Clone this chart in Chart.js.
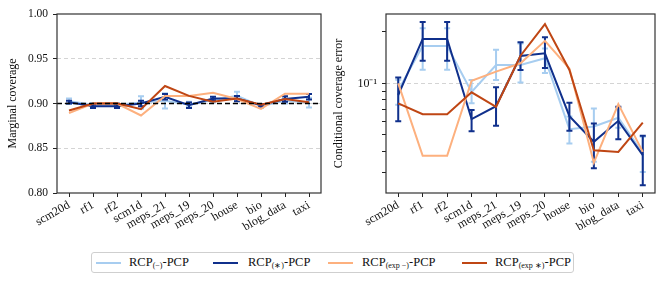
<!DOCTYPE html>
<html>
<head>
<meta charset="utf-8">
<script src="https://cdn.jsdelivr.net/npm/chart.js@4/dist/chart.umd.min.js"></script>
<style>
  html, body { margin:0; padding:0; background:#fff; }
  body { width:665px; height:283px; position:relative; overflow:hidden; font-family:"Liberation Serif", serif; }
  #wrapL { position:absolute; left:0; top:0; width:330px; height:240px; }
  #wrapR { position:absolute; left:330px; top:0; width:335px; height:240px; }
  #legend { position:absolute; left:91px; top:252px; width:481px; height:19px; border:1px solid #cfcfcf; border-radius:3px; box-sizing:content-box; }
  .item { position:absolute; top:0; height:19px; line-height:19px; font-size:12.5px; color:#111; white-space:nowrap; }
  .swatch { position:absolute; top:9px; width:25px; height:2px; }
  sub { font-size:8px; vertical-align:-2px; line-height:0; }
</style>
</head>
<body>
<div id="wrapL"><canvas id="left" width="330" height="240"></canvas></div>
<div id="wrapR"><canvas id="right" width="335" height="240"></canvas></div>
<div id="legend"></div>
<script>
// ---------- data ----------
const categories = ['scm20d','rf1','rf2','scm1d','meps_21','meps_19','meps_20','house','bio','blog_data','taxi'];
const seriesNames = ['RCP(−)-PCP','RCP(∗)-PCP','RCP(exp −)-PCP','RCP(exp ∗)-PCP'];
const seriesColors = ['#a7cdf0','#10308c','#fdb07e','#bf4614'];
const targetCoverage = 0.9;

// marginal coverage (left panel)
const covMinus    = [0.9025,0.8985,0.8985,0.9010,0.9030,0.8990,0.9040,0.9085,0.8970,0.9030,0.9010];
const covMinusErr = [0.0030,0.0020,0.0020,0.0070,0.0085,0.0030,0.0030,0.0045,0.0020,0.0030,0.0055];
const covStar     = [0.9015,0.8970,0.8970,0.9000,0.9075,0.8980,0.9055,0.9055,0.8980,0.9050,0.9075];
const covStarErr  = [0.0015,0.0020,0.0020,0.0030,0.0030,0.0030,0.0020,0.0030,0.0015,0.0030,0.0030];
const covExpMinus = [0.8893,0.9000,0.9000,0.8866,0.9085,0.9085,0.9120,0.9050,0.8940,0.9110,0.9110];
const covExpStar  = [0.8922,0.9000,0.9003,0.8937,0.9195,0.9085,0.9020,0.9055,0.8985,0.9050,0.9015];

// conditional coverage error (right panel)
const errMinus     = [0.0910,0.1650,0.1650,0.0890,0.1280,0.1280,0.1400,0.0540,0.0560,0.0630,0.0390];
const errMinusLow  = [0.0750,0.1200,0.1200,0.0764,0.1045,0.1010,0.1150,0.0446,0.0348,0.0550,0.0304];
const errMinusHigh = [0.1050,0.2100,0.2100,0.1045,0.1570,0.1710,0.1600,0.0640,0.0714,0.0720,0.0487];
const errStar      = [0.0855,0.1816,0.1816,0.0618,0.0736,0.1444,0.1496,0.0644,0.0456,0.0604,0.0381];
const errStarLow   = [0.0600,0.1355,0.1355,0.0526,0.0565,0.1197,0.1230,0.0528,0.0319,0.0471,0.0254];
const errStarHigh  = [0.1080,0.2280,0.2280,0.0698,0.0948,0.1740,0.1860,0.0770,0.0583,0.0730,0.0494];
const errExpMinus  = [0.1000,0.0378,0.0378,0.1035,0.1170,0.1310,0.1770,0.1220,0.0344,0.0757,0.0398];
const errExpStar   = [0.0764,0.0660,0.0660,0.0886,0.0730,0.1450,0.2220,0.1197,0.0407,0.0398,0.0589];

// tick labels
const leftTicks = [0.80,0.85,0.90,0.95,1.00];
const rightTicks = [0.03,0.04,0.05,0.06,0.07,0.08,0.09,0.1,0.2];
const rightTickLabels = {0.1:'10⁻¹'};

// ---------- helpers ----------
const FONT = "'Liberation Serif', 'Times New Roman', serif";
Chart.defaults.font.family = FONT;
Chart.defaults.color = '#111';

const errorBarPlugin = {
  id:'errorBars',
  afterDatasetDraw(chart, args) {
    const ds = chart.data.datasets[args.index];
    if (!ds.errLow || !ds.errHigh) return;
    const y = chart.scales.y, ctx = chart.ctx, a = chart.chartArea;
    ctx.save();
    ctx.beginPath(); ctx.rect(a.left, a.top, a.right-a.left, a.bottom-a.top); ctx.clip();
    ctx.strokeStyle = ds.borderColor; ctx.lineWidth = 2; ctx.lineCap = 'butt';
    args.meta.data.forEach((pt, i) => {
      const y1 = y.getPixelForValue(ds.errLow[i]), y2 = y.getPixelForValue(ds.errHigh[i]);
      ctx.beginPath();
      ctx.moveTo(pt.x, y1); ctx.lineTo(pt.x, y2);
      ctx.moveTo(pt.x-3, y1); ctx.lineTo(pt.x+3, y1);
      ctx.moveTo(pt.x-3, y2); ctx.lineTo(pt.x+3, y2);
      ctx.stroke();
    });
    ctx.restore();
  }
};

const framePlugin = {
  id:'frame',
  afterDatasetsDraw(chart, args, opts) {
    const ctx = chart.ctx, a = chart.chartArea;
    ctx.save();
    if (opts.refValue !== undefined) {
      const yy = chart.scales.y.getPixelForValue(opts.refValue);
      ctx.strokeStyle = '#000'; ctx.lineWidth = 1.4; ctx.setLineDash([5,3]);
      ctx.beginPath(); ctx.moveTo(a.left, yy); ctx.lineTo(a.right, yy); ctx.stroke();
      ctx.setLineDash([]);
    }
    ctx.strokeStyle = '#333'; ctx.lineWidth = 1.2;
    ctx.strokeRect(a.left, a.top, a.right-a.left, a.bottom-a.top);
    ctx.restore();
  }
};

function makeDatasets(values, errs) {
  return values.map((v, k) => ({
    label: seriesNames[k],
    data: v,
    borderColor: seriesColors[k],
    backgroundColor: seriesColors[k],
    borderWidth: 2,
    pointRadius: 0,
    tension: 0,
    order: 4 - k,
    errLow: errs[k] ? errs[k][0] : null,
    errHigh: errs[k] ? errs[k][1] : null
  }));
}

function xScale() {
  return {
    type:'category',
    offset:true,
    grid:{ offset:false, drawOnChartArea:false, drawTicks:true, tickLength:4, tickColor:'#222' },
    border:{ display:false },
    ticks:{ autoSkip:false, minRotation:30, maxRotation:30, padding:1, font:{ size:12, family:FONT }, color:'#111' },
    afterFit(s){ s.height = 47; }
  };
}

// ---------- left chart ----------
new Chart(document.getElementById('left'), {
  type:'line',
  data:{
    labels: categories,
    datasets: makeDatasets(
      [covMinus, covStar, covExpMinus, covExpStar],
      [
        [covMinus.map((v,i)=>v-covMinusErr[i]), covMinus.map((v,i)=>v+covMinusErr[i])],
        [covStar.map((v,i)=>v-covStarErr[i]), covStar.map((v,i)=>v+covStarErr[i])],
        null, null
      ])
  },
  options:{
    responsive:false, animation:false, events:[],
    layout:{ padding:{ top:14, right:9, left:0, bottom:0 } },
    plugins:{ legend:{display:false}, tooltip:{enabled:false}, frame:{ refValue: targetCoverage } },
    scales:{
      x: xScale(),
      y: {
        min: leftTicks[0], max: leftTicks[leftTicks.length-1],
        afterBuildTicks(s){ s.ticks = leftTicks.map(v => ({value:v})); },
        afterFit(s){ s.width = 57; },
        grid:{
          drawTicks:true, tickLength:4, tickColor:'#222',
          color: c => (c.tick && c.tick.value > 0.81 && c.tick.value < 0.99) ? '#d4d4d4' : 'rgba(0,0,0,0)',
          lineWidth:1
        },
        border:{ display:false, dash:[4,3] },
        ticks:{ padding:5, font:{ size:11.5, family:FONT }, color:'#111', callback: v => Number(v).toFixed(2) },
        title:{ display:true, text:'Marginal coverage', font:{ size:12, family:FONT }, color:'#111', padding:{ top:6, bottom:0 } }
      }
    }
  },
  plugins:[errorBarPlugin, framePlugin]
});

// ---------- right chart ----------
new Chart(document.getElementById('right'), {
  type:'line',
  data:{
    labels: categories,
    datasets: makeDatasets(
      [errMinus, errStar, errExpMinus, errExpStar],
      [[errMinusLow, errMinusHigh], [errStarLow, errStarHigh], null, null])
  },
  options:{
    responsive:false, animation:false, events:[],
    layout:{ padding:{ top:14, right:10, left:0, bottom:0 } },
    plugins:{ legend:{display:false}, tooltip:{enabled:false}, frame:{} },
    scales:{
      x: xScale(),
      y: {
        type:'logarithmic',
        min:0.0229, max:0.254,
        afterBuildTicks(s){ s.ticks = rightTicks.map(v => ({value:v})); },
        afterFit(s){ s.width = 56; },
        grid:{
          drawTicks:true, tickLength:4, tickColor:'#222',
          color: c => (c.tick && Math.abs(c.tick.value - 0.1) < 1e-9) ? '#d4d4d4' : 'rgba(0,0,0,0)',
          lineWidth:1
        },
        border:{ display:false, dash:[4,3] },
        ticks:{ padding:5, font:{ size:12, family:FONT }, color:'#111', autoSkip:false,
          callback: v => rightTickLabels[v] !== undefined ? rightTickLabels[v] : '' },
        title:{ display:true, text:'Conditional coverage error', font:{ size:12, family:FONT }, color:'#111', padding:{ top:2, bottom:0 } }
      }
    }
  },
  plugins:[errorBarPlugin, framePlugin]
});

// ---------- legend ----------
const legendLayout = [[4,37],[121,156],[236,270],[370,403]];
const legendHTML = [
  'RCP<sub>(−)</sub>-PCP',
  'RCP<sub>(∗)</sub>-PCP',
  'RCP<sub>(exp −)</sub>-PCP',
  'RCP<sub>(exp ∗)</sub>-PCP'
];
const lg = document.getElementById('legend');
seriesNames.forEach((n, k) => {
  const sw = document.createElement('div');
  sw.className = 'swatch';
  sw.style.left = legendLayout[k][0] + 'px';
  sw.style.background = seriesColors[k];
  lg.appendChild(sw);
  const it = document.createElement('div');
  it.className = 'item';
  it.style.left = legendLayout[k][1] + 'px';
  it.innerHTML = legendHTML[k];
  it.title = n;
  lg.appendChild(it);
});
</script>
</body>
</html>
